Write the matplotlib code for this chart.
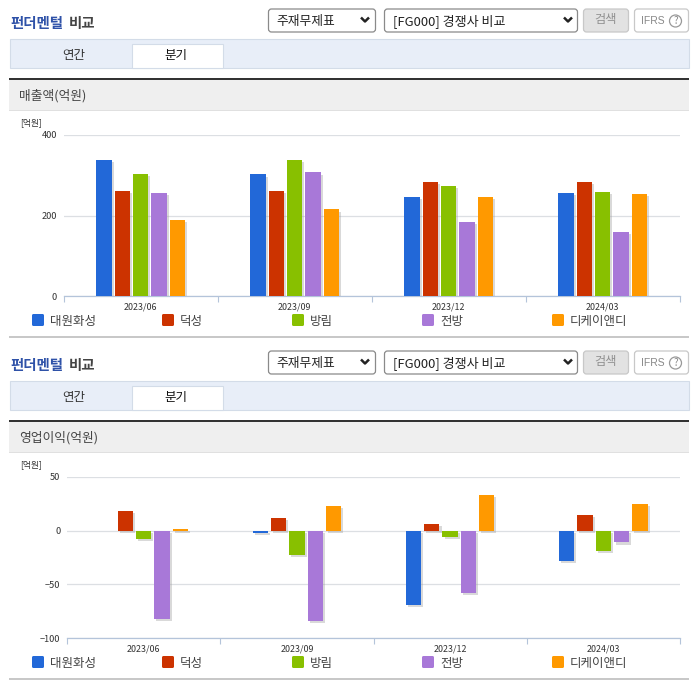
import matplotlib
matplotlib.use("Agg")
import matplotlib.pyplot as plt
import matplotlib.patheffects as pe
from matplotlib.patches import Rectangle, FancyBboxPatch, Circle
import numpy as np

plt.rcParams['font.family'] = ['Noto Sans CJK KR', 'DejaVu Sans']

periods = ['2023/06', '2023/09', '2023/12', '2024/03']
companies = ['대원화성', '덕성', '방림', '전방', '디케이앤디']
colors = ['#2268d8', '#cc3300', '#88c000', '#a878d8', '#ff9900']
sales = [
    [339, 302, 247, 255],
    [260, 262, 284, 284],
    [304, 337, 274, 259],
    [257, 307, 183, 158],
    [190, 215, 247, 254],
]
profit = [
    [0, -2, -69, -28],
    [18, 12, 6.5, 15],
    [-8, -23, -6, -19],
    [-82, -84, -58, -11],
    [2, 23, 33, 25],
]
W, H = 696, 684
fig = plt.figure(figsize=(W / 100, H / 100), dpi=100, facecolor='white')
bg = fig.add_axes([0, 0, 1, 1], zorder=0)
bg.set_xlim(0, W)
bg.set_ylim(H, 0)
bg.axis('off')


def rect(x0, y0, x1, y1, fc, ec='none', lw=0.8):
    bg.add_patch(Rectangle((x0, y0), x1 - x0, y1 - y0, fc=fc, ec=ec, lw=lw))


def rbox(x0, y0, x1, y1, fc, ec):
    bg.add_patch(FancyBboxPatch((x0 + 3, y0 + 3), x1 - x0 - 6, y1 - y0 - 6,
                                boxstyle='round,pad=3', fc=fc, ec=ec, lw=0.9))


def chevron(x, y):
    bg.plot([x - 4, x, x + 4], [y - 2, y + 2, y - 2], color='#222222', lw=1.8,
            solid_capstyle='butt')


def section(dy, metric):
    bg.text(10, 24 + dy, '펀더멘털', color='#2f52a8', fontsize=10.4, fontweight='bold',
            va='center', ha='left')
    bg.text(69, 24 + dy, '비교', color='#444444', fontsize=10.4, fontweight='bold',
            va='center', ha='left')
    rbox(268.5, 9 + dy, 375.5, 32 + dy, 'white', '#8a8a8a')
    bg.text(276, 21.5 + dy, '주재무제표', color='#222222', fontsize=9.2, va='center')
    chevron(365, 19.5 + dy)
    rbox(384.5, 9 + dy, 577.5, 32 + dy, 'white', '#8a8a8a')
    bg.text(393, 21.5 + dy, '[FG000] 경쟁사 비교', color='#222222', fontsize=9.4, va='center')
    chevron(568, 19.5 + dy)
    rbox(583.5, 9 + dy, 628.5, 32 + dy, '#e2e2e2', '#c8c8c8')
    bg.text(606, 20 + dy, '검색', color='#909090', fontsize=8.8, va='center', ha='center')
    rbox(634.5, 9 + dy, 688.5, 32 + dy, 'white', '#c8c8c8')
    bg.text(641, 20.5 + dy, 'IFRS', color='#888888', fontsize=7.5, va='center',
            family=['Liberation Sans', 'DejaVu Sans'])
    bg.add_patch(Circle((675.5, 21 + dy), 6, fc='white', ec='#999999', lw=0.9))
    bg.text(675.5, 21 + dy, '?', color='#888888', fontsize=7, va='center', ha='center')
    rect(9.5, 38.5 + dy, 688.5, 67.5 + dy, '#e8eef8', '#d3dce8')
    rect(131.5, 43.5 + dy, 222.5, 67.5 + dy, 'white', '#d3dce8')
    bg.text(74, 55.5 + dy, '연간', color='#333333', fontsize=9, va='center', ha='center')
    bg.text(176, 55.5 + dy, '분기', color='#111111', fontsize=9, va='center', ha='center')
    rect(9, 80 + dy, 689, 110 + dy, '#efefef')
    rect(9, 78 + dy, 689, 80 + dy, '#333333')
    rect(9, 110 + dy, 689, 111 + dy, '#e0e0e0')
    bg.text(19, 96 + dy, metric, color='#444444', fontsize=9.2, va='center')
    bg.text(20, 123 + dy, '[억원]', color='#333333', fontsize=6.3, va='center')
    for x0, name, c in zip([32, 162, 292, 422, 552], companies, colors):
        bg.add_patch(FancyBboxPatch((x0 + 1.5, 315.5 + dy), 9, 9,
                                    boxstyle='round,pad=1.5', fc=c, ec='none'))
        bg.text(x0 + 18, 321 + dy, name, color='#444444', fontsize=9.0, va='center')
    rect(9, 336 + dy, 689, 338 + dy, '#c8c8c8')


def chart(x0, x1, ytop, ybot, values, ylim, yticks):
    ax = fig.add_axes([x0 / W, 1 - ybot / H, (x1 - x0) / W, (ybot - ytop) / H], zorder=2)
    ax.patch.set_alpha(0)
    ax.set_xlim(0, len(periods))
    ax.set_ylim(*ylim)
    for s in ['top', 'right', 'left']:
        ax.spines[s].set_visible(False)
    ax.spines['bottom'].set_color('#b4c4da')
    ax.spines['bottom'].set_linewidth(0.9)
    ax.grid(axis='y', color='#dcdfe3', lw=0.9)
    ax.set_axisbelow(True)
    ax.set_yticks(yticks)
    ax.tick_params(axis='y', length=0, labelsize=6.6, labelcolor='#333333', pad=5)
    ax.set_xticks(np.arange(len(periods) + 1))
    ax.set_xticklabels([])
    ax.tick_params(axis='x', which='major', length=4, color='#b4c4da', width=0.8)
    ax.set_xticks(np.arange(len(periods)) + 0.5, minor=True)
    ax.set_xticklabels(periods, minor=True)
    ax.tick_params(axis='x', which='minor', length=0, labelsize=6.4, labelcolor='#333333', pad=4.5)
    step, width = 0.1195, 0.1
    centers = np.arange(len(periods)) + 0.5
    for i, (vals, c) in enumerate(zip(values, colors)):
        bars = ax.bar(centers + (i - 2) * step, vals, width, color=c, zorder=3)
        for b in bars:
            if b.get_height() != 0:
                b.set_path_effects([
                    pe.SimplePatchShadow(offset=(1.5, -1.5), shadow_rgbFace='#a0a0a0', alpha=0.4),
                    pe.Normal()])
    return ax


section(0, '매출액(억원)')
section(342, '영업이익(억원)')
chart(63.7, 679.7, 135.0, 296.0, sales, (0, 400), [0, 200, 400])
ax2 = chart(67.1, 679.9, 477.0, 638.0, profit, (-100, 50), [-100, -50, 0, 50])
fig.savefig('out.png', dpi=100, facecolor='white')
